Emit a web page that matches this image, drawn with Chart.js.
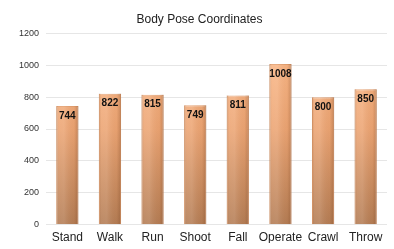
<!DOCTYPE html>
<html>
<head>
<meta charset="utf-8">
<script src="https://cdn.jsdelivr.net/npm/chart.js"></script>
<style>
  html,body{margin:0;padding:0;background:#fff;}
  #wrap{width:394px;height:249px;}
</style>
</head>
<body>
<div id="wrap"><canvas id="myChart" width="394" height="249"></canvas></div>
<script>
const labels = ['Stand','Walk','Run','Shoot','Fall','Operate','Crawl','Throw']
const values = [744, 822, 815, 749, 811, 1008, 800, 850]
const yTicks = [0, 200, 400, 600, 800, 1000, 1200]

//縦方向のグラデーション
const barFill = (context) => {
  const chart = context.chart
  const area = chart.chartArea
  if(!area){ return '#F5AE7E' }
  const g = chart.ctx.createLinearGradient(0, area.top, 0, area.bottom)
  g.addColorStop(0, '#FFBE8E')
  g.addColorStop(0.5, '#ECA574')
  g.addColorStop(1, '#B47D55')
  return g
}

//横方向の陰影と値ラベル
const barShade = {
  id: 'barShade',
  afterDatasetsDraw(chart){
    const ctx = chart.ctx
    const meta = chart.getDatasetMeta(0)
    meta.data.forEach((bar, i) => {
      const left = bar.x - bar.width / 2
      const right = bar.x + bar.width / 2
      const g = ctx.createLinearGradient(left, 0, right, 0)
      g.addColorStop(0, 'rgba(120,60,20,0.25)')
      g.addColorStop(0.12, 'rgba(255,255,255,0.10)')
      g.addColorStop(0.35, 'rgba(255,255,255,0.12)')
      g.addColorStop(0.8, 'rgba(120,60,20,0.05)')
      g.addColorStop(1, 'rgba(100,50,20,0.30)')
      ctx.save()
      ctx.fillStyle = g
      ctx.fillRect(left, bar.y, bar.width, bar.base - bar.y)
      ctx.fillStyle = '#111'
      ctx.font = 'bold 10px "Liberation Sans", Arial, sans-serif'
      ctx.textAlign = 'center'
      ctx.textBaseline = 'top'
      ctx.fillText(String(values[i]), bar.x, bar.y + 5)
      ctx.restore()
    })
  }
}

const graph_obj = new Chart(document.getElementById('myChart'), {
  type: 'bar',
  data: {
    labels: labels,
    datasets: [{
      data: values,
      backgroundColor: barFill,
      borderColor: '#E4A070',
      borderWidth: 1,
      barPercentage: 0.52,
      categoryPercentage: 1.0,
    }]
  },
  options: {
    responsive: false,
    animation: false,
    devicePixelRatio: 1,
    layout: { padding: { left: 12, right: 7, top: 2, bottom: 6 } },
    plugins: {
      legend: { display: false },
      tooltip: { enabled: false },
      title: {
        display: true,
        text: 'Body Pose Coordinates',
        color: '#222',
        font: { family: '"Liberation Sans", Arial, sans-serif', size: 12, weight: 'normal' },
        padding: { top: 10, bottom: 7 }
      }
    },
    scales: {
      x: {
        grid: { display: false },
        border: { display: false },
        ticks: {
          color: '#222',
          font: { family: '"Liberation Sans", Arial, sans-serif', size: 12 },
          padding: -2,
          maxRotation: 0,
          minRotation: 0,
          autoSkip: false
        }
      },
      y: {
        min: 0,
        max: 1200,
        afterBuildTicks: (axis) => { axis.ticks = yTicks.map(v => ({ value: v })) },
        grid: { color: '#E6E6E6', lineWidth: 1, drawTicks: false },
        border: { display: false },
        ticks: {
          color: '#333',
          font: { family: '"Liberation Sans", Arial, sans-serif', size: 9 },
          padding: 7,
          callback: (v) => String(v)
        }
      }
    }
  },
  plugins: [barShade]
})
</script>
</body>
</html>
